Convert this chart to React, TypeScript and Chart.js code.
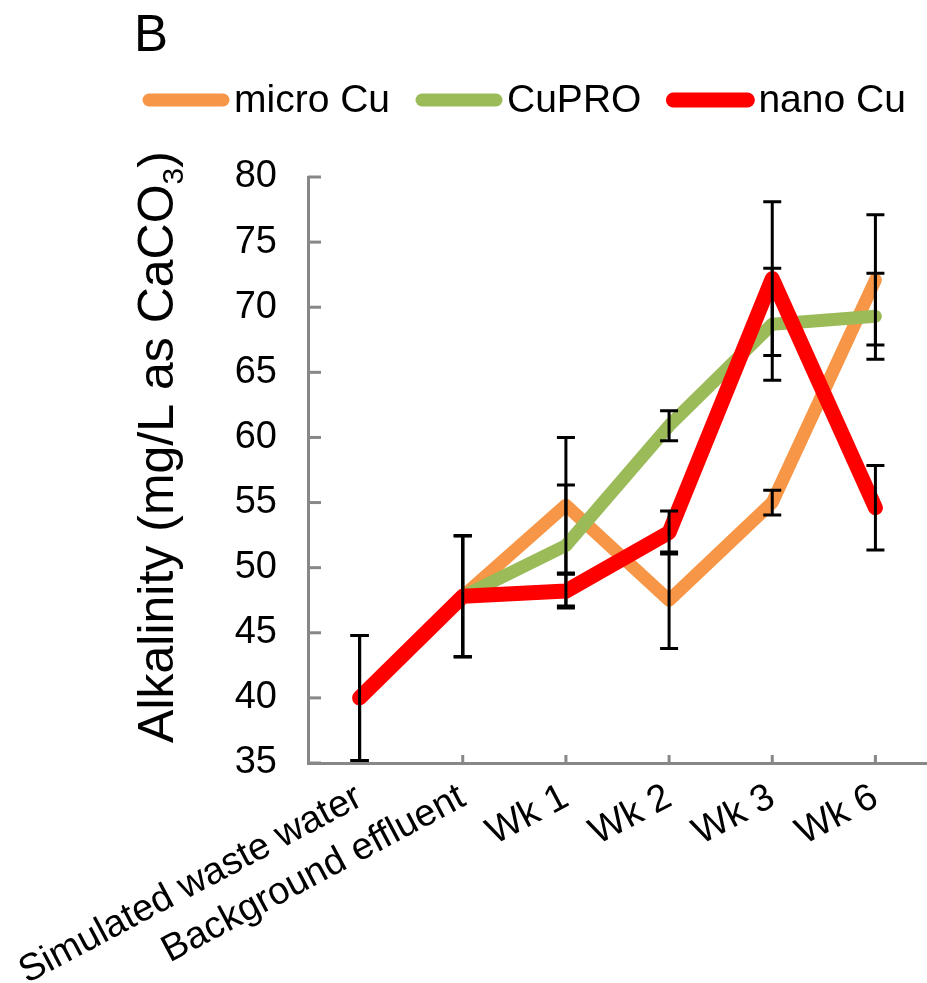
import React, { useEffect, useRef } from 'react';
import { Chart, registerables } from 'chart.js';

Chart.register(...registerables);

const categories = ['Simulated waste water', 'Background effluent', 'Wk 1', 'Wk 2', 'Wk 3', 'Wk 6'];

const microCu = [40, 47.8, 54.8, 47.5, 55.0, 72.1];
const microCuErr = [4.8, 4.65, 5.2, 3.7, 0.95, 5.0];

const cuPRO = [40, 47.8, 51.7, 60.9, 68.7, 69.3];
const cuPROErr = [4.8, 4.65, 4.65, 1.15, 4.3, 3.3];

const nanoCu = [40, 47.8, 48.2, 52.7, 72.2, 54.6];
const nanoCuErr = [4.8, 4.65, 1.3, 1.65, 5.9, 3.25];

const yTicks = [35, 40, 45, 50, 55, 60, 65, 70, 75, 80];

const FONT = '"Liberation Sans", Arial, Helvetica, sans-serif';
const AXIS_GRAY = '#878787';

export default function App() {
  const ref = useRef<HTMLCanvasElement>(null);

  useEffect(() => {
    const canvas = ref.current;
    if (!canvas) return;

    const errorBars = {
      id: 'errorBars',
      afterDatasetDraw(chart: any, args: any) {
        const ds = chart.data.datasets[args.index];
        const errs: number[] = ds.errors || [];
        const ys = chart.scales.y;
        const ctx = chart.ctx;
        ctx.save();
        ctx.strokeStyle = '#000';
        ctx.lineWidth = 3;
        ctx.lineCap = 'butt';
        args.meta.data.forEach((pt: any, i: number) => {
          const v = ds.data[i];
          const e = errs[i];
          if (v == null || e == null) return;
          const x = pt.x;
          const yt = ys.getPixelForValue(v + e);
          const yb = ys.getPixelForValue(v - e);
          ctx.beginPath();
          ctx.moveTo(x, yt);
          ctx.lineTo(x, yb);
          ctx.moveTo(x - 9, yt);
          ctx.lineTo(x + 9, yt);
          ctx.moveTo(x - 9, yb);
          ctx.lineTo(x + 9, yb);
          ctx.stroke();
        });
        ctx.restore();
      },
    };

    const innerTicks = {
      id: 'innerTicks',
      beforeDatasetsDraw(chart: any) {
        const { ctx, chartArea, scales } = chart;
        const xs = scales.x;
        const ys = scales.y;
        ctx.save();
        ctx.strokeStyle = AXIS_GRAY;
        ctx.lineWidth = 3;
        ys.ticks.forEach((_t: any, i: number) => {
          const py = ys.getPixelForTick(i);
          ctx.beginPath();
          ctx.moveTo(chartArea.left, py);
          ctx.lineTo(chartArea.left + 13, py);
          ctx.stroke();
        });
        xs.ticks.forEach((_t: any, i: number) => {
          const px = xs.getPixelForTick(i);
          ctx.beginPath();
          ctx.moveTo(px, chartArea.bottom);
          ctx.lineTo(px, chartArea.bottom - 8);
          ctx.stroke();
        });
        ctx.restore();
      },
    };

    const decorations = {
      id: 'decorations',
      afterDraw(chart: any) {
        const { ctx, chartArea } = chart;
        ctx.save();
        // Panel label
        ctx.fillStyle = '#000';
        ctx.font = `51px ${FONT}`;
        ctx.textAlign = 'left';
        ctx.textBaseline = 'alphabetic';
        ctx.fillText('B', 134, 51);

        // Legend
        let lx = 142;
        const ly = 100;
        ctx.font = `39px ${FONT}`;
        chart.data.datasets.forEach((ds: any) => {
          ctx.strokeStyle = ds.borderColor;
          ctx.lineWidth = ds.borderWidth;
          ctx.lineCap = 'round';
          ctx.beginPath();
          ctx.moveTo(lx + 7, ly);
          ctx.lineTo(lx + 81, ly);
          ctx.stroke();
          ctx.fillStyle = '#000';
          ctx.textBaseline = 'middle';
          ctx.fillText(ds.label, lx + 92, ly + 1);
          lx += 92 + ctx.measureText(ds.label).width + 25;
        });

        // Y axis title with subscript
        const main = 'Alkalinity (mg/L as CaCO';
        const sub = '3';
        const close = ')';
        const fMain = `50px ${FONT}`;
        const fSub = `30px ${FONT}`;
        ctx.font = fMain;
        const wMain = ctx.measureText(main).width;
        const wClose = ctx.measureText(close).width;
        ctx.font = fSub;
        const wSub = ctx.measureText(sub).width;
        const total = wMain + wSub + wClose;
        const cy = (chartArea.top + chartArea.bottom) / 2 - 23;
        const bx = chartArea.left - 135;
        ctx.translate(bx, cy);
        ctx.rotate(-Math.PI / 2);
        ctx.textBaseline = 'alphabetic';
        ctx.textAlign = 'left';
        let tx = -total / 2;
        ctx.font = fMain;
        ctx.fillText(main, tx, 0);
        tx += wMain;
        ctx.font = fSub;
        ctx.fillText(sub, tx, 10);
        tx += wSub;
        ctx.font = fMain;
        ctx.fillText(close, tx, 0);
        ctx.restore();
      },
    };

    const chart = new Chart(canvas, {
      type: 'line',
      data: {
        labels: categories,
        datasets: [
          {
            label: 'micro Cu',
            data: microCu,
            errors: microCuErr,
            borderColor: '#F79646',
            backgroundColor: '#F79646',
            borderWidth: 13,
            order: 3,
          } as any,
          {
            label: 'CuPRO',
            data: cuPRO,
            errors: cuPROErr,
            borderColor: '#9BBB59',
            backgroundColor: '#9BBB59',
            borderWidth: 13,
            order: 2,
          } as any,
          {
            label: 'nano Cu',
            data: nanoCu,
            errors: nanoCuErr,
            borderColor: '#FF0000',
            backgroundColor: '#FF0000',
            borderWidth: 15,
            order: 1,
          } as any,
        ],
      },
      options: {
        responsive: false,
        animation: false,
        devicePixelRatio: 1,
        elements: {
          point: { radius: 0, hoverRadius: 0 },
          line: { tension: 0, borderCapStyle: 'round', borderJoinStyle: 'round' },
        },
        layout: { padding: { top: 177, left: 0, right: 0, bottom: 0 } },
        plugins: {
          legend: { display: false },
          tooltip: { enabled: false },
          title: { display: false },
        },
        scales: {
          x: {
            type: 'category',
            offset: true,
            grid: { display: false, drawTicks: false, offset: false },
            border: { display: true, color: AXIS_GRAY, width: 3 },
            ticks: {
              autoSkip: false,
              maxRotation: 28,
              minRotation: 28,
              padding: 12,
              color: '#000',
              font: { family: FONT, size: 38 },
            },
            afterFit(scale: any) {
              scale.height = 220;
              scale.paddingLeft = 0;
              scale.paddingRight = 0;
            },
          },
          y: {
            type: 'linear',
            min: 35,
            max: 80,
            afterBuildTicks(scale: any) {
              scale.ticks = yTicks.map((v) => ({ value: v }));
            },
            grid: { display: false, drawTicks: false },
            border: { display: true, color: AXIS_GRAY, width: 3 },
            ticks: {
              padding: 31,
              color: '#000',
              font: { family: FONT, size: 38 },
            },
            afterFit(scale: any) {
              scale.width = 308;
            },
          },
        },
      },
      plugins: [errorBars, innerTicks, decorations],
    } as any);

    return () => chart.destroy();
  }, []);

  return (
    <div style={{ position: 'absolute', left: 0, top: 0, width: 927, height: 983, background: '#fff' }}>
      <canvas ref={ref} width={927} height={983} style={{ display: 'block', width: 927, height: 983 }} />
    </div>
  );
}
